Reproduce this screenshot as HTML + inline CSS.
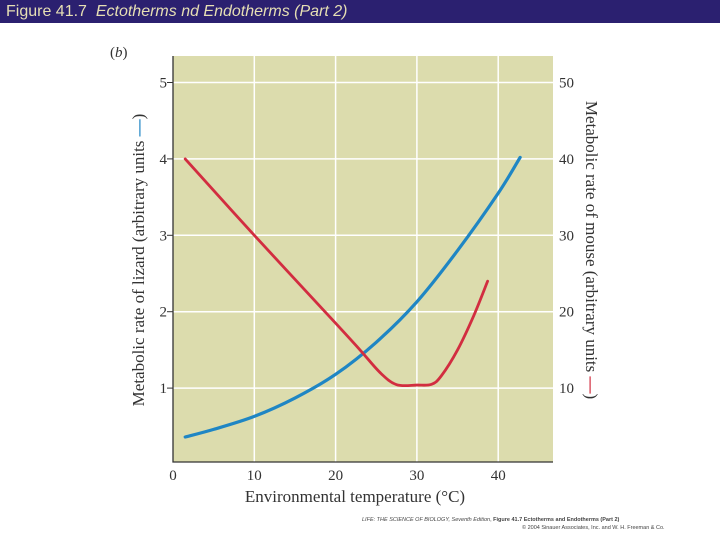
<!DOCTYPE html>
<html><head><meta charset="utf-8"><style>
html,body{margin:0;padding:0;background:#fff;width:720px;height:540px;overflow:hidden}
#title{position:absolute;left:0;top:0;width:720px;height:23px;background:#2b2070;color:#e6dfb4;font:16px "Liberation Sans",sans-serif;line-height:23px;padding-left:6px;box-sizing:border-box;white-space:nowrap}
#credit{position:absolute;left:362px;top:516px;font:5.5px "Liberation Sans",sans-serif;color:#444;line-height:8px}
</style></head><body>
<div id="title">Figure 41.7&nbsp; <i>Ectotherms nd Endotherms (Part 2)</i></div>
<svg id="chart" width="720" height="540" style="position:absolute;left:0;top:0" xmlns="http://www.w3.org/2000/svg"></svg>
<div id="credit"><i>LIFE: THE SCIENCE OF BIOLOGY, Seventh Edition</i>, <b>Figure 41.7 Ectotherms and Endotherms (Part 2)</b><br><span style="padding-left:160px">© 2004 Sinauer Associates, Inc. and W. H. Freeman &amp; Co.</span></div>
<script>
const xTicks=[0,10,20,30,40];
const leftTicks=[1,2,3,4,5];
const rightTickLabels=[10,20,30,40,50];
const lizardX=[1.5,5,10,15,20,25,30,35,40,42.7];
const lizardY=[0.36,0.46,0.63,0.87,1.18,1.6,2.13,2.8,3.55,4.02];
const mouseX=[1.5,10,20,23,25.5,27.5,30,31.8,33,35,37,38.7];
const mouseY=[40,30,18.5,15,12,10.45,10.4,10.5,11.6,15,19.5,24];

const NS="http://www.w3.org/2000/svg";
const svg=document.getElementById('chart');
const L=173,R=553,T=56,B=462;
const sx=v=>173+v*8.13;
const sy=v=>464.5-v*76.4;
const sy2=v=>sy(v/10);
function mk(tag,attrs,parent){const e=document.createElementNS(NS,tag);for(const k in attrs)e.setAttribute(k,attrs[k]);(parent||svg).appendChild(e);return e;}
const bg=mk('rect',{x:L,y:T,width:R-L,height:B-T,fill:'#dcdcad'});


const font='"Liberation Serif",serif';
xTicks.forEach(t=>{
  if(t>0){const g=mk('line',{x1:sx(t),x2:sx(t),y1:T,y2:B,stroke:'#fff','stroke-width':1.5});
  
  }
  const tx=mk('text',{x:sx(t),y:B+18,'text-anchor':'middle','font-family':font,'font-size':15,fill:'#333'});
  tx.textContent=t;
  
  
});
leftTicks.forEach((t,i)=>{
  const g=mk('line',{x1:L,x2:R,y1:sy(t),y2:sy(t),stroke:'#fff','stroke-width':1.5});
  
  
  mk('line',{x1:L-6,x2:L,y1:sy(t),y2:sy(t),stroke:'#333','stroke-width':1});
  const tx=mk('text',{x:L-6,y:sy(t)+5,'text-anchor':'end','font-family':font,'font-size':15,fill:'#333'});
  tx.textContent=t;
  
  
  const tr=mk('text',{x:R+6,y:sy2(rightTickLabels[i])+5,'font-family':font,'font-size':15,fill:'#333'});
  tr.textContent=rightTickLabels[i];
  
  
});
const ax=mk('path',{d:`M${L},${T} L${L},${B} L${R},${B}`,fill:'none',stroke:'#333','stroke-width':1.3});


function smooth(xs,ys,fx,fy){
  const p=xs.map((x,i)=>[fx(x),fy(ys[i])]);
  let d=`M${p[0][0]},${p[0][1]}`;
  for(let i=0;i<p.length-1;i++){
    const p0=p[Math.max(0,i-1)],p1=p[i],p2=p[i+1],p3=p[Math.min(p.length-1,i+2)];
    const c1=[p1[0]+(p2[0]-p0[0])/6,p1[1]+(p2[1]-p0[1])/6];
    const c2=[p2[0]-(p3[0]-p1[0])/6,p2[1]-(p3[1]-p1[1])/6];
    d+=` C${c1[0]},${c1[1]} ${c2[0]},${c2[1]} ${p2[0]},${p2[1]}`;
  }
  return d;
}
const blue=mk('path',{d:smooth(lizardX,lizardY,sx,sy),fill:'none',stroke:'#1f86c4','stroke-width':3.2,'stroke-linecap':'round'});


const red=mk('path',{d:smooth(mouseX,mouseY,sx,sy2),fill:'none',stroke:'#d22d40','stroke-width':2.8,'stroke-linecap':'round'});


const xt=mk('text',{x:(L+R)/2-8,y:502,'text-anchor':'middle','font-family':font,'font-size':17,fill:'#333'});
xt.textContent='Environmental temperature (°C)';


const yl=mk('text',{transform:'translate(144,260) rotate(-90)','text-anchor':'middle','font-family':font,'font-size':17,fill:'#333'});
yl.innerHTML='Metabolic rate of lizard (arbitrary units <tspan fill="#1f86c4" font-weight="bold">—</tspan>)';


const yr=mk('text',{transform:'translate(586,250) rotate(90)','text-anchor':'middle','font-family':font,'font-size':17,fill:'#333'});
yr.innerHTML='Metabolic rate of mouse (arbitrary units <tspan fill="#d22d40" font-weight="bold">—</tspan>)';


const pl=mk('text',{x:110,y:57,'font-family':font,'font-size':15,fill:'#333'});
pl.innerHTML='(<tspan font-style="italic">b</tspan>)';


</script>
</body></html>
